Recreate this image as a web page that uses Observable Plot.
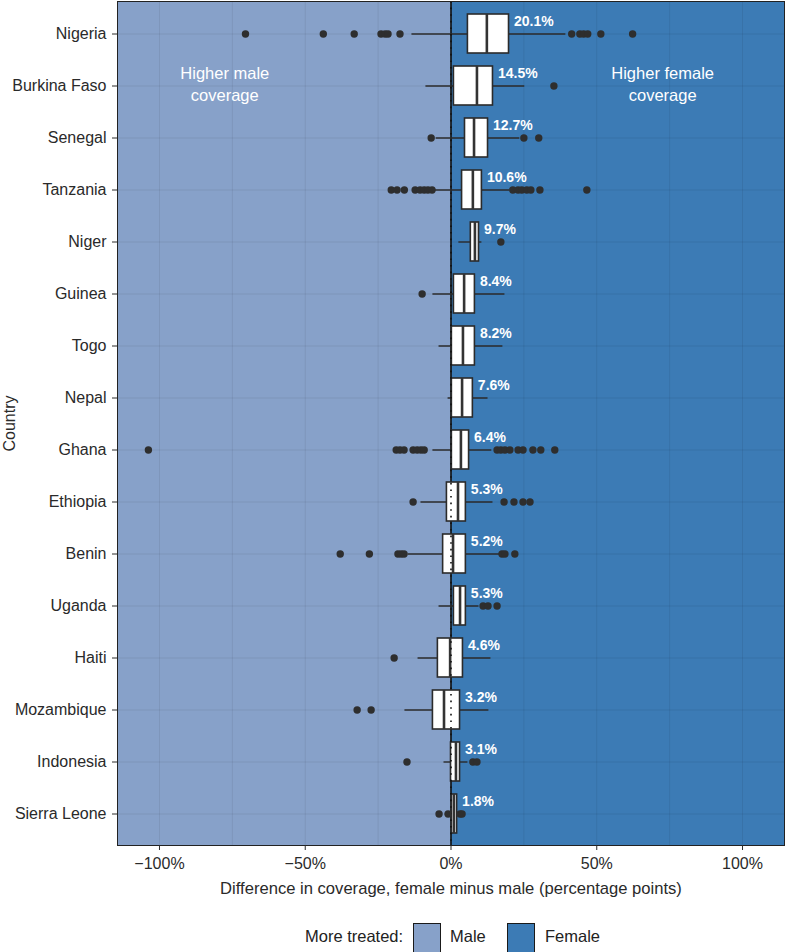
<!DOCTYPE html>
<html>
<head>
<meta charset="utf-8">
<script src="https://cdn.jsdelivr.net/npm/d3@7"></script>
<script src="https://cdn.jsdelivr.net/npm/@observablehq/plot@0.6"></script>
<style>
  html, body { margin: 0; padding: 0; background: #fff; }
  body { font-family: "Liberation Sans", Arial, sans-serif; width: 785px; }
  #legend { position: relative; height: 46px; font-size: 16.5px; color: #222; }
  #legend .lbl { position: absolute; top: 21px; line-height: 19px; }
  #legend .key { position: absolute; top: 17px; width: 26px; height: 30px; border: 1.5px solid #1a1a1a; }
</style>
</head>
<body>
<div id="chart"></div>
<div id="legend">
  <span class="lbl" style="left:305px;">More treated:</span>
  <span class="key" style="left:413px;background:#87a1c9;"></span>
  <span class="lbl" style="left:450px;">Male</span>
  <span class="key" style="left:507px;background:#3c7bb5;"></span>
  <span class="lbl" style="left:545px;">Female</span>
</div>
<script>
const countries = ["Nigeria","Burkina Faso","Senegal","Tanzania","Niger","Guinea","Togo","Nepal","Ghana","Ethiopia","Benin","Uganda","Haiti","Mozambique","Indonesia","Sierra Leone"];
const q1   = [5.8, 1.0, 4.8, 3.8, 6.8, 1.0, 0.3, 0.3, 0.3, -1.4, -2.7, 1.0, -4.5, -6.2, 0.0, 0.3];
const med  = [12.3, 8.9, 7.9, 7.5, 8.2, 4.5, 4.1, 3.8, 3.4, 2.4, 0.7, 3.1, -0.3, -2.4, 1.7, 1.0];
const q3   = [19.9, 14.4, 12.7, 10.6, 9.6, 8.2, 8.2, 7.5, 6.2, 5.1, 5.1, 5.1, 4.1, 3.1, 3.1, 2.1];
const wLo  = [-13.4, -8.6, -5.1, -6.2, 2.7, -6.2, -4.1, -1.0, -6.2, -10.3, -14.7, -4.1, -11.3, -15.8, -2.4, -2.0];
const wHi  = [39.4, 25.3, 23.6, 20.2, 10.6, 18.5, 17.8, 12.7, 14.0, 14.4, 16.8, 9.6, 13.7, 13.0, 5.8, 3.0];
const meanLabels = [20.1, 14.5, 12.7, 10.6, 9.7, 8.4, 8.2, 7.6, 6.4, 5.3, 5.2, 5.3, 4.6, 3.2, 3.1, 1.8];
const outliers = [
  [-70.5, -43.8, -33.2, -24.0, -22.6, -21.6, -17.5, 41.4, 44.2, 45.5, 46.9, 51.4, 62.3],
  [35.3],
  [-6.8, 25.0, 30.1],
  [-20.5, -18.5, -16.0, -12.3, -10.6, -9.2, -7.9, -6.5, 21.2, 23.0, 24.3, 26.0, 27.4, 30.5, 46.6],
  [17.1],
  [-9.9],
  [],
  [],
  [-103.8, -18.8, -17.5, -16.1, -13.0, -11.6, -10.3, -9.2, 15.8, 17.1, 18.5, 20.2, 23.0, 24.7, 28.1, 30.8, 35.6],
  [-13.0, 18.2, 21.6, 24.7, 27.1],
  [-38.0, -28.0, -18.2, -17.1, -16.1, 17.5, 18.5, 21.9],
  [11.0, 12.7, 15.8],
  [-19.5],
  [-32.2, -27.4],
  [-15.1, 7.5, 8.9],
  [-4.1, -1.0, 3.1, 3.8]
];
const xTicks = [-100, -50, 0, 50, 100];
const xMinor = [-75, -25, 25, 75];
const regions = [{side: "Male", x1: -114.4, x2: 0, color: "#87a1c9"}, {side: "Female", x1: 0, x2: 114.4, color: "#3c7bb5"}];
const notes = [
  {text: "Higher male\ncoverage", x: -77.6, y: "Burkina Faso"},
  {text: "Higher female\ncoverage", x: 72.6, y: "Burkina Faso"}
];

const stats = countries.map((c, i) => ({country: c, q1: q1[i], med: med[i], q3: q3[i], lo: wLo[i], hi: wHi[i], label: meanLabels[i]}));
const pts = countries.flatMap((c, i) => outliers[i].map(v => ({country: c, v})));
const fmt = d => (d < 0 ? "\u2212" : "") + Math.abs(d) + "%";

const chart = Plot.plot({
  width: 785,
  height: 906,
  marginTop: 1,
  marginLeft: 117,
  marginRight: 1,
  marginBottom: 61,
  style: {fontFamily: "Liberation Sans, Arial, sans-serif", fontSize: "16px", color: "#2a2a2a", background: "white"},
  x: {domain: [-114.4, 114.4], ticks: xTicks, tickFormat: fmt, label: "Difference in coverage, female minus male (percentage points)"},
  y: {type: "band", domain: countries, paddingInner: 0.25, paddingOuter: 0.225, label: "Country"},
  marks: [
    Plot.rect(regions, {x1: "x1", x2: "x2", fill: "color"}),
    Plot.ruleX(xTicks.concat(xMinor), {stroke: "#000", strokeOpacity: 0.07, strokeWidth: 1}),
    Plot.gridY({stroke: "#000", strokeOpacity: 0.07, strokeWidth: 1}),
    Plot.ruleX([0], {stroke: "#111", strokeWidth: 1.6}),
    Plot.ruleY(stats, {y: "country", x1: "lo", x2: "hi", stroke: "#2b2b2b", strokeWidth: 1.4}),
    Plot.barX(stats, {y: "country", x1: "q1", x2: "q3", fill: "white", stroke: "#2b2b2b", strokeWidth: 1.6}),
    Plot.tickX(stats, {y: "country", x: "med", stroke: "#333", strokeWidth: 2.6}),
    Plot.ruleX([0], {stroke: "#111", strokeWidth: 1.6, strokeDasharray: "1.6,5"}),
    Plot.dot(pts, {y: "country", x: "v", r: 3.7, fill: "#2e2e2e", stroke: "none"}),
    Plot.text(stats, {y: "country", x: "q3", text: d => d.label.toFixed(1) + "%", dx: 5, dy: -12, textAnchor: "start", fill: "white", fontWeight: "bold", fontSize: 14}),
    Plot.text(notes, {x: "x", y: "y", text: "text", fill: "white", fontSize: 16.5, lineHeight: 1.35, dy: -3}),
    Plot.frame({stroke: "#222", strokeWidth: 1}),
    Plot.axisX({ticks: xTicks, tickFormat: fmt, tickSize: 5, tickPadding: 7, fontSize: 16, label: null}),
    Plot.axisX({ticks: [], tickSize: 0, fontSize: 16.6, label: "Difference in coverage, female minus male (percentage points)", labelAnchor: "center", labelOffset: 48, labelArrow: "none"}),
    Plot.axisY({tickSize: 5, tickPadding: 6, fontSize: 16, label: "Country", labelAnchor: "center", labelOffset: 114, labelArrow: "none"})
  ]
});
document.getElementById("chart").appendChild(chart);
</script>
</body>
</html>
